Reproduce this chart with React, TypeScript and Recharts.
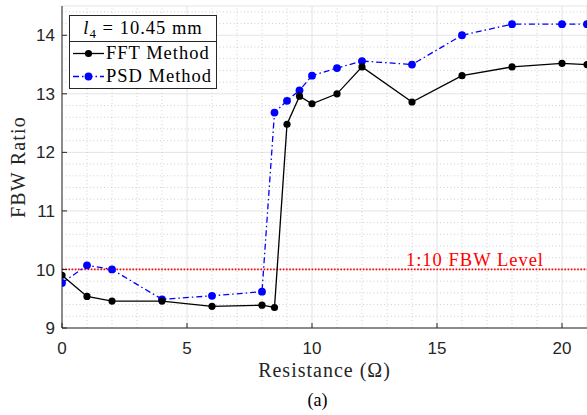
import { LineChart, Line, XAxis, YAxis, CartesianGrid, ReferenceLine, Legend } from 'recharts';

// values
const resistance = [0, 1, 2, 4, 6, 8, 8.5, 9, 9.5, 10, 11, 12, 14, 16, 18, 20, 21];
const fftRatio = [9.9, 9.54, 9.46, 9.46, 9.37, 9.39, 9.35, 12.48, 12.96, 12.83, 13.0, 13.46, 12.86, 13.31, 13.46, 13.52, 13.5];
const psdRatio = [9.77, 10.07, 10.0, 9.49, 9.55, 9.62, 12.68, 12.88, 13.06, 13.31, 13.44, 13.56, 13.5, 14.0, 14.19, 14.19, 14.19];

const xTicks = [0, 5, 10, 15, 20];
const yTicks = [9, 10, 11, 12, 13, 14];
const xMinor = [1, 2, 3, 4, 6, 7, 8, 9, 11, 12, 13, 14, 16, 17, 18, 19];
const yMinor = [9.2, 9.4, 9.6, 9.8, 10.2, 10.4, 10.6, 10.8, 11.2, 11.4, 11.6, 11.8, 12.2, 12.4, 12.6, 12.8, 13.2, 13.4, 13.6, 13.8, 14.2, 14.4];

const FBW_LEVEL = 10;
const LEVEL_LABEL = '1:10 FBW Level';

const SERIES = [
  { key: 'fft', name: 'FFT Method', color: '#000000', dash: undefined as string | undefined, r: 3.6 },
  { key: 'psd', name: 'PSD Method', color: '#0000ff', dash: '6 3 1.5 3', r: 3.9 },
];

const chartData = resistance.map((r, i) => ({ r, fft: fftRatio[i], psd: psdRatio[i] }));

const AXIS = '#262626';
const SANS = '"Liberation Sans", Arial, sans-serif';
const SERIF = '"Liberation Serif", "Times New Roman", serif';

function BottomTick(p: any) {
  return (
    <g>
      <line x1={p.x} x2={p.x} y1={p.y} y2={p.y - 5} stroke={AXIS} />
      <text x={p.x} y={p.y + 26} textAnchor="middle" fontFamily={SANS} fontSize={17} fill={AXIS}>
        {p.payload.value}
      </text>
    </g>
  );
}

function LeftTick(p: any) {
  return (
    <g>
      <line x1={p.x} x2={p.x + 5} y1={p.y} y2={p.y} stroke={AXIS} />
      <text x={p.x - 7} y={p.y} dy="0.36em" textAnchor="end" fontFamily={SANS} fontSize={17} fill={AXIS}>
        {p.payload.value}
      </text>
    </g>
  );
}

function TopTick(p: any) {
  return <line x1={p.x} x2={p.x} y1={p.y} y2={p.y + 5} stroke={AXIS} />;
}

function RightTick(p: any) {
  return <line x1={p.x} x2={p.x - 5} y1={p.y} y2={p.y} stroke={AXIS} />;
}

function XTitle(p: any) {
  const vb = p.viewBox;
  const cx = vb.x + vb.width / 2;
  return (
    <g fontFamily={SERIF} fill="#262626">
      <text x={cx} y={vb.y + 49} textAnchor="middle" fontSize={20} letterSpacing={1}>
        Resistance (Ω)
      </text>
      <text x={cx - 7} y={vb.y + 78} textAnchor="middle" fontSize={18} fill="#000">
        (a)
      </text>
    </g>
  );
}

function YTitle(p: any) {
  const vb = p.viewBox;
  const cy = vb.y + vb.height / 2;
  return (
    <text
      x={25}
      y={cy}
      transform={`rotate(-90, 25, ${cy})`}
      textAnchor="middle"
      fontFamily={SERIF}
      fontSize={20}
      letterSpacing={1.2}
      fill="#262626"
    >
      FBW Ratio
    </text>
  );
}

function LevelLabel(p: any) {
  const vb = p.viewBox;
  return (
    <text
      x={vb.x + vb.width - 43}
      y={vb.y - 3}
      textAnchor="end"
      fontFamily={SERIF}
      fontSize={18.5}
      letterSpacing={1}
      fill="#ff0000"
    >
      {LEVEL_LABEL}
    </text>
  );
}

function LegendBox() {
  return (
    <div
      style={{
        width: 146,
        border: `1px solid ${AXIS}`,
        background: '#fff',
        fontFamily: SERIF,
        fontSize: 18.5,
        color: '#000',
        letterSpacing: 1,
      }}
    >
      <div style={{ height: 25, lineHeight: '25px', textAlign: 'center', borderBottom: `1px solid ${AXIS}` }}>
        <i>l</i>
        <span style={{ fontSize: 13, position: 'relative', top: 4 }}>4</span> = 10.45 mm
      </div>
      {SERIES.map((s) => (
        <div key={s.key} style={{ height: 23, display: 'flex', alignItems: 'center' }}>
          <svg width={36} height={23} style={{ flex: 'none' }}>
            <line x1={3} x2={34} y1={11.5} y2={11.5} stroke={s.color} strokeWidth={1.3} strokeDasharray={s.dash} />
            <circle cx={18.5} cy={11.5} r={s.r} fill={s.color} />
          </svg>
          <span style={{ lineHeight: '23px' }}>{s.name}</span>
        </div>
      ))}
    </div>
  );
}

export default function App() {
  return (
    <div style={{ position: 'absolute', left: 0, top: 0, width: 587, height: 415, background: '#fff' }}>
      <LineChart width={587} height={415} data={chartData} margin={{ top: 6, right: 0, bottom: 0, left: 0 }}>
        <CartesianGrid stroke="#e4e4e4" strokeWidth={1} />
        {xMinor.map((v) => (
          <ReferenceLine key={`xm${v}`} x={v} stroke="#c4c4c4" strokeWidth={0.8} strokeDasharray="1 2.5" />
        ))}
        {yMinor.map((v) => (
          <ReferenceLine key={`ym${v}`} y={v} stroke="#c4c4c4" strokeWidth={0.8} strokeDasharray="1 2.5" />
        ))}
        <XAxis
          dataKey="r"
          type="number"
          domain={[0, 21]}
          ticks={xTicks}
          allowDataOverflow
          height={87}
          tickSize={0}
          tickMargin={0}
          tickLine={false}
          axisLine={{ stroke: AXIS }}
          tick={BottomTick}
          interval={0}
          label={<XTitle />}
        />
        <XAxis
          xAxisId="top"
          orientation="top"
          dataKey="r"
          type="number"
          domain={[0, 21]}
          ticks={xTicks}
          allowDataOverflow
          height={0}
          tickSize={0}
          tickMargin={0}
          tickLine={false}
          axisLine={{ stroke: AXIS }}
          tick={TopTick}
          interval={0}
        />
        <YAxis
          type="number"
          domain={[9, 14.5]}
          ticks={yTicks}
          allowDataOverflow
          width={62}
          tickSize={0}
          tickMargin={0}
          tickLine={false}
          axisLine={{ stroke: AXIS }}
          tick={LeftTick}
          interval={0}
          label={<YTitle />}
        />
        <YAxis
          yAxisId="right"
          orientation="right"
          type="number"
          domain={[9, 14.5]}
          ticks={yTicks}
          allowDataOverflow
          width={0}
          tickSize={0}
          tickMargin={0}
          tickLine={false}
          axisLine={{ stroke: AXIS }}
          tick={RightTick}
          interval={0}
        />
        <ReferenceLine
          y={FBW_LEVEL}
          stroke="#ff0000"
          strokeWidth={1.8}
          strokeDasharray="1.6 1.6"
          label={<LevelLabel />}
        />
        <Line
          dataKey="psd"
          name="PSD Method"
          type="linear"
          stroke="#0000ff"
          strokeWidth={1.3}
          strokeDasharray={SERIES[1].dash}
          dot={{ r: 3.9, fill: '#0000ff', stroke: 'none' }}
          activeDot={false}
          isAnimationActive={false}
        />
        <Line
          dataKey="fft"
          name="FFT Method"
          type="linear"
          stroke="#000000"
          strokeWidth={1.3}
          dot={{ r: 3.6, fill: '#000000', stroke: 'none' }}
          activeDot={false}
          isAnimationActive={false}
        />
        <Legend
          layout="vertical"
          align="center"
          verticalAlign="middle"
          content={() => <LegendBox />}
          wrapperStyle={{ left: 69, top: 15, width: 148, height: 'auto' }}
        />
      </LineChart>
    </div>
  );
}
